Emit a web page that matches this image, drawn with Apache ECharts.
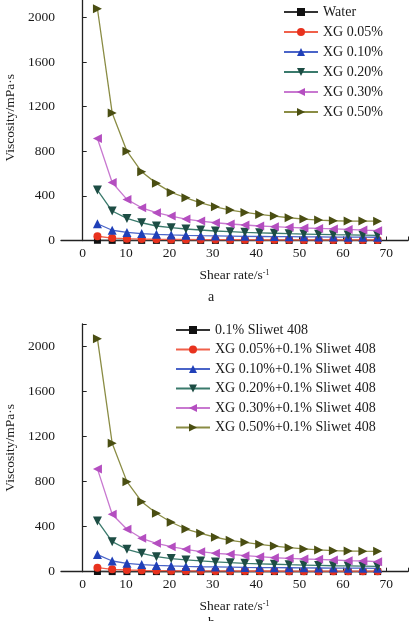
<!DOCTYPE html>
<html>
<head>
<meta charset="utf-8">
<script src="https://cdn.jsdelivr.net/npm/echarts@6/dist/echarts.min.js"></script>
<style>
html,body{margin:0;padding:0;background:#fff;}
#main{width:415px;height:621px;}
</style>
</head>
<body>
<div id="main"></div>
<script>
// ---- data ----
var xValues = [3.4, 6.8, 10.2, 13.6, 17, 20.4, 23.8, 27.2, 30.6, 34, 37.4, 40.8, 44.2, 47.6, 51, 54.4, 57.8, 61.2, 64.6, 68];
var xTickLabels = [0, 10, 20, 30, 40, 50, 60, 70];
var yTickLabels = [0, 400, 800, 1200, 1600, 2000];

var namesA = ['Water', 'XG 0.05%', 'XG 0.10%', 'XG 0.20%', 'XG 0.30%', 'XG 0.50%'];
var aWater = [2, 1, 1, 1, 1, 1, 1, 1, 1, 1, 1, 1, 1, 1, 1, 1, 1, 1, 1, 1];
var aXG005 = [38, 22, 16, 13, 11, 10, 9, 8, 8, 7, 7, 6, 6, 6, 5, 5, 5, 5, 5, 5];
var aXG010 = [150, 92, 72, 62, 55, 50, 46, 43, 41, 39, 37, 36, 35, 34, 33, 32, 31, 30, 30, 29];
var aXG020 = [452, 264, 198, 159, 130, 115, 103, 94, 85, 79, 73, 69, 65, 61, 58, 55, 52, 50, 48, 46];
var aXG030 = [914, 520, 368, 293, 249, 219, 192, 174, 159, 148, 139, 130, 124, 118, 112, 108, 104, 99, 93, 88];
var aXG050 = [2077, 1143, 800, 616, 512, 431, 383, 338, 302, 273, 252, 234, 219, 204, 192, 183, 177, 174, 174, 173];

var namesB = ['0.1% Sliwet 408', 'XG 0.05%+0.1% Sliwet 408', 'XG 0.10%+0.1% Sliwet 408', 'XG 0.20%+0.1% Sliwet 408', 'XG 0.30%+0.1% Sliwet 408', 'XG 0.50%+0.1% Sliwet 408'];
var bSliwet = [2, 1, 1, 1, 1, 1, 1, 1, 1, 1, 1, 1, 1, 1, 1, 1, 1, 1, 1, 1];
var bXG005 = [36, 21, 15, 12, 10, 9, 8, 8, 7, 7, 6, 6, 6, 5, 5, 5, 5, 5, 5, 5];
var bXG010 = [152, 95, 74, 63, 56, 51, 47, 44, 42, 40, 38, 37, 36, 35, 34, 33, 32, 31, 31, 30];
var bXG020 = [451, 267, 199, 163, 133, 117, 105, 96, 87, 80, 74, 70, 66, 62, 59, 56, 53, 51, 49, 47];
var bXG030 = [913, 510, 377, 297, 252, 222, 199, 178, 163, 155, 142, 133, 124, 119, 113, 110, 104, 98, 95, 89];
var bXG050 = [2070, 1141, 800, 622, 519, 439, 379, 341, 306, 279, 261, 243, 228, 213, 202, 193, 187, 184, 182, 181];

// ---- styles ----
var FONT = 'Liberation Serif';
var TXT = '#1a1a1a';
var markerColors = ['#111111', '#e8321e', '#2040b8', '#1d4d44', '#b44ec0', '#4a4e12'];
var lineColors = ['#333333', '#f0604a', '#4a64c8', '#3a7a6c', '#c878d0', '#8a8c44'];
var symbols = ['rect', 'circle', 'triangle',
  'path://M0,0 L10,0 L5,9 Z',
  'path://M9,0 L9,10 L0,5 Z',
  'path://M0,0 L9,5 L0,10 Z'];
var symSizes = [7, 8, 9, 9, 9, 9];

function pairs(ys) {
  return xValues.map(function (x, i) { return [x, ys[i]]; });
}

function makeSeries(names, datas, idx) {
  return names.map(function (n, i) {
    return {
      name: n,
      type: 'line',
      xAxisIndex: idx,
      yAxisIndex: idx,
      data: pairs(datas[i]),
      symbol: symbols[i],
      symbolSize: symSizes[i],
      showAllSymbol: true,
      clip: false,
      z: 2 + i,
      itemStyle: { color: markerColors[i] },
      lineStyle: { color: lineColors[i], width: 1.3 }
    };
  });
}

function plain(v) { return String(v); }

function xAxis(idx) {
  return {
    type: 'value', gridIndex: idx, min: -5, max: 75,
    axisLine: { show: true, onZero: false, lineStyle: { color: '#222', width: 1.3 } },
    axisTick: { show: true, inside: true, length: 4, customValues: [0, 10, 20, 30, 40, 50, 60, 70, 75], lineStyle: { color: '#222' } },
    axisLabel: { customValues: xTickLabels, formatter: plain, color: TXT, fontFamily: FONT, fontSize: 13.5, margin: 6 },
    splitLine: { show: false },
    name: 'Shear rate/s{sup|-1}',
    nameLocation: 'middle',
    nameGap: 28,
    nameTextStyle: {
      color: TXT, fontFamily: FONT, fontSize: 13.5,
      rich: { sup: { fontSize: 8, verticalAlign: 'top', color: TXT, fontFamily: FONT, padding: [0, 0, 6, 0] } }
    }
  };
}
function yAxis(idx) {
  return {
    type: 'value', gridIndex: idx, min: 0, max: 2200,
    axisLine: { show: true, lineStyle: { color: '#222', width: 1.3 } },
    axisTick: { show: true, inside: true, length: 4, customValues: [0, 400, 800, 1200, 1600, 2000, 2200], lineStyle: { color: '#222' } },
    axisLabel: { customValues: yTickLabels, formatter: plain, color: TXT, fontFamily: FONT, fontSize: 13.5, margin: 6 },
    splitLine: { show: false },
    name: 'Viscosity/mPa·s',
    nameLocation: 'middle',
    nameGap: 41,
    nameRotate: 90,
    nameTextStyle: { color: TXT, fontFamily: FONT, fontSize: 13.5 }
  };
}

var chart = echarts.init(document.getElementById('main'), null, { renderer: 'canvas' });
chart.setOption({
  backgroundColor: '#fff',
  animation: false,
  title: [
    { text: 'a', left: 203, top: 285, textStyle: { color: TXT, fontFamily: FONT, fontSize: 14, fontWeight: 'normal' } },
    { text: 'b', left: 203, top: 611, textStyle: { color: TXT, fontFamily: FONT, fontSize: 14, fontWeight: 'normal' } }
  ],
  grid: [
    { left: 61, right: 7, top: -5, bottom: 380.5, containLabel: false, outerBoundsMode: 'none' },
    { left: 61, right: 7, top: 324, bottom: 49.3, containLabel: false, outerBoundsMode: 'none' }
  ],
  legend: [
    { data: namesA, orient: 'vertical', left: 278, top: -1, itemWidth: 34, itemHeight: 10, itemGap: 4,
      textStyle: { color: TXT, fontFamily: FONT, fontSize: 14, lineHeight: 16 } },
    { data: namesB, orient: 'vertical', left: 170, top: 317, itemWidth: 34, itemHeight: 10, itemGap: 3.5,
      textStyle: { color: TXT, fontFamily: FONT, fontSize: 14, lineHeight: 16 } }
  ],
  xAxis: [xAxis(0), xAxis(1)],
  yAxis: [yAxis(0), yAxis(1)],
  series: makeSeries(namesA, [aWater, aXG005, aXG010, aXG020, aXG030, aXG050], 0)
    .concat(makeSeries(namesB, [bSliwet, bXG005, bXG010, bXG020, bXG030, bXG050], 1))
});
</script>
</body>
</html>
